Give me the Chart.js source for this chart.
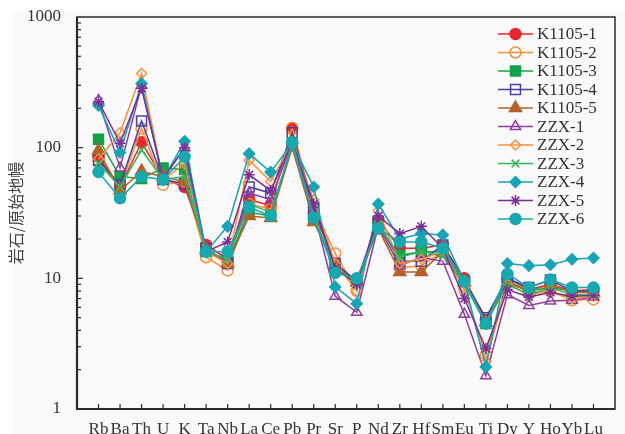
<!DOCTYPE html>
<html>
<head>
<meta charset="utf-8">
<script src="https://cdn.jsdelivr.net/npm/chart.js@4.4.1/dist/chart.umd.min.js"></script>
<style>
  html, body { margin: 0; padding: 0; background: #fff; }
  #wrap { width: 625px; height: 434px; }
</style>
</head>
<body>
<div id="wrap"><canvas id="graficoSpider" width="625" height="434"></canvas></div>
<script>
// elementos (eixo x)
const elementos = ['Rb','Ba','Th','U','K','Ta','Nb','La','Ce','Pb','Pr','Sr','P','Nd','Zr','Hf','Sm','Eu','Ti','Dy','Y','Ho','Yb','Lu'];

// valores normalizados ao manto primitivo
const k1105_1 = [85, 50, 110, 58, 50, 18, 14, 40, 36, 140, 32, 13, 9.5, 28, 17, 17, 18, 10, 4.8, 10, 8.2, 9, 8, 8.2];
const k1105_2 = [80, 50, 140, 52, 55, 14.5, 11.5, 37, 34, 142, 35, 15.5, 8, 27, 12, 12.5, 16, 8.2, 2.6, 9.5, 7.8, 8, 6.8, 6.9];
const k1105_3 = [116, 60, 58, 70, 68, 16, 13.5, 32, 30, 105, 28, 12, 9.5, 25, 15, 16, 16, 9.5, 4.5, 9.5, 8, 8.5, 8, 7.8];
const k1105_4 = [80, 52, 160, 57, 53, 17, 13, 50, 45, 130, 35, 13, 9.5, 27, 13.5, 13.5, 18, 9.5, 5, 10, 8.5, 9.7, 8, 8];
const k1105_5 = [95, 47, 66, 60, 55, 16.5, 13, 30, 29, 100, 27, 12.5, 9.3, 24, 11.2, 11.2, 16, 9.3, 4.6, 9.2, 8, 9, 7.8, 7.8];
const zzx_1 = [230, 70, 300, 58, 100, 16, 14, 45, 40, 110, 33, 7.3, 5.5, 25, 12.5, 14.5, 13.5, 5.3, 1.8, 7.5, 6.2, 6.7, 6.8, 7.2];
const zzx_2 = [82, 130, 370, 57, 75, 16, 13, 80, 55, 110, 40, 13, 8, 33, 13, 14, 16, 8.5, 2.3, 9, 7.5, 8, 7, 7.3];
const zzx_3 = [76, 50, 96, 57, 60, 16, 14, 37, 32, 105, 30, 12, 9, 26, 14.5, 16, 15, 9, 4.5, 9, 7.5, 8.5, 7.5, 7.5];
const zzx_4 = [210, 92, 310, 57, 112, 16, 25, 90, 65, 108, 50, 8.6, 6.4, 37, 20, 22, 21.5, 9.5, 2.1, 13, 12.5, 12.7, 14, 14.3];
const zzx_5 = [225, 108, 285, 58, 100, 16, 19, 62, 47, 110, 37, 12, 9, 30, 22, 25, 17, 7, 2.9, 8.2, 7.2, 7.8, 7.3, 7.4];
const zzx_6 = [65, 41, 60, 57, 85, 16, 16, 35, 30, 110, 29, 11, 10, 24, 19, 19, 17, 9.5, 4.5, 10.8, 8.5, 9.8, 8.5, 8.5];

const amostras = ['K1105-1','K1105-2','K1105-3','K1105-4','K1105-5','ZZX-1','ZZX-2','ZZX-3','ZZX-4','ZZX-5','ZZX-6'];
const valores = [k1105_1, k1105_2, k1105_3, k1105_4, k1105_5, zzx_1, zzx_2, zzx_3, zzx_4, zzx_5, zzx_6];

// estilo de cada amostra: cor, marcador, raio, preenchido
const estilos = [
  { cor: '#e8262d', ponto: 'circle',   raio: 5.5, cheio: true },
  { cor: '#f3913f', ponto: 'circle',   raio: 5.5, cheio: false },
  { cor: '#13a04a', ponto: 'rect',     raio: 7,   cheio: true },
  { cor: '#4b40a0', ponto: 'rect',     raio: 7,   cheio: false },
  { cor: '#b2622a', ponto: 'triangle', raio: 7,   cheio: true },
  { cor: '#8e3f9e', ponto: 'triangle', raio: 6,   cheio: false },
  { cor: '#f3913f', ponto: 'rectRot',  raio: 5,   cheio: false },
  { cor: '#3ab55a', ponto: 'crossRot', raio: 5.5, cheio: false },
  { cor: '#19a3b4', ponto: 'rectRot',  raio: 5.5, cheio: true },
  { cor: '#7a2f96', ponto: 'star',     raio: 5.5, cheio: false },
  { cor: '#17a9ad', ponto: 'circle',   raio: 5.5, cheio: true }
];

// uma posição vazia em cada ponta para dar o espaço das bordas
const labels = [''].concat(elementos, ['']);

const datasets = amostras.map(function (nome, i) {
  const e = estilos[i];
  return {
    label: nome,
    data: [null].concat(valores[i], [null]),
    borderColor: e.cor,
    backgroundColor: e.cheio ? e.cor : 'rgba(0,0,0,0)',
    borderWidth: 1.5,
    pointStyle: e.ponto,
    pointRadius: e.raio,
    pointBorderWidth: 1.5,
    pointBorderColor: e.cor,
    pointBackgroundColor: e.cheio ? e.cor : 'rgba(0,0,0,0)',
    tension: 0,
    order: amostras.length - i
  };
});

// fundo, moldura, marcas dos eixos e legenda
const molduraPlugin = {
  id: 'moldura',
  beforeDraw(chart) {
    const ctx = chart.ctx;
    ctx.save();
    ctx.fillStyle = '#ffffff';
    ctx.fillRect(0, 0, chart.width, chart.height);
    ctx.fillStyle = '#f9f9f9';
    ctx.fillRect(13, 11, chart.width - 13, chart.height - 11);
    ctx.restore();
  },
  afterDraw(chart) {
    const ctx = chart.ctx;
    const a = chart.chartArea;
    const sx = chart.scales.x;
    const sy = chart.scales.y;
    ctx.save();
    ctx.strokeStyle = '#2a2a2a';

    // marcas no eixo x
    ctx.lineWidth = 1.2;
    for (let i = 1; i <= elementos.length; i++) {
      const px = sx.getPixelForValue(i);
      ctx.beginPath();
      ctx.moveTo(px, a.bottom);
      ctx.lineTo(px, a.bottom - 5);
      ctx.stroke();
    }
    // marcas no eixo y (log)
    [1, 10, 100].forEach(function (dec) {
      for (let m = 1; m <= 9; m++) {
        const py = sy.getPixelForValue(dec * m);
        const len = m === 1 ? 6 : 4;
        ctx.beginPath();
        ctx.moveTo(a.left, py);
        ctx.lineTo(a.left + len, py);
        ctx.stroke();
      }
    });

    // moldura
    ctx.lineWidth = 1.5;
    ctx.strokeRect(a.left, a.top, a.right - a.left, a.bottom - a.top);
    ctx.lineWidth = 2.2;
    ctx.beginPath();
    ctx.moveTo(a.left, a.top);
    ctx.lineTo(a.left, a.bottom);
    ctx.lineTo(a.right, a.bottom);
    ctx.stroke();

    // legenda
    const x0 = 498, x1 = 533, xt = 537;
    ctx.font = '17px "Liberation Serif", serif';
    ctx.textBaseline = 'middle';
    ctx.textAlign = 'left';
    amostras.forEach(function (nome, i) {
      const e = estilos[i];
      const y = 34 + i * 18.5;
      ctx.strokeStyle = e.cor;
      ctx.lineWidth = 1.5;
      ctx.beginPath();
      ctx.moveTo(x0, y);
      ctx.lineTo(x1, y);
      ctx.stroke();
      ctx.fillStyle = e.cheio ? e.cor : 'rgba(0,0,0,0)';
      Chart.helpers.drawPoint(ctx, { pointStyle: e.ponto, radius: e.raio, rotation: 0, borderWidth: 1.5 }, (x0 + x1) / 2, y);
      ctx.fillStyle = '#333';
      ctx.fillText(nome, xt, y + 1);
    });
    ctx.restore();
  }
};

const ctx = document.getElementById('graficoSpider').getContext('2d');
const grafico = new Chart(ctx, {
  type: 'line',
  data: { labels: labels, datasets: datasets },
  options: {
    responsive: false,
    animation: false,
    devicePixelRatio: 1,
    spanGaps: false,
    layout: { padding: { top: 17, right: 8, left: 0, bottom: 0 } },
    plugins: {
      legend: { display: false },
      tooltip: { enabled: false }
    },
    scales: {
      x: {
        type: 'category',
        offset: false,
        grid: { display: false, drawTicks: false },
        border: { display: false },
        ticks: {
          autoSkip: false,
          maxRotation: 0,
          minRotation: 0,
          padding: 10,
          color: '#333',
          font: { family: '"Liberation Serif", serif', size: 17 }
        },
        afterFit(scale) { scale.height = 25; }
      },
      y: {
        type: 'logarithmic',
        min: 1,
        max: 1000,
        grid: { display: false, drawTicks: false },
        border: { display: false },
        afterBuildTicks(scale) {
          scale.ticks = [1, 10, 100, 1000].map(function (v) { return { value: v }; });
        },
        ticks: {
          padding: 16,
          color: '#333',
          font: { family: '"Liberation Serif", serif', size: 17 },
          callback: function (v) { return String(v); }
        },
        title: {
          display: true,
          text: '岩石/原始地幔',
          color: '#444',
          padding: { top: 6, bottom: 0 },
          font: { family: '"Noto Sans CJK SC", sans-serif', size: 16 }
        },
        afterFit(scale) {
          scale.width = 77;
          // sem folga extra em cima e embaixo: a área do gráfico fica fixa
          scale.paddingTop = 0;
          scale.paddingBottom = 0;
        }
      }
    }
  },
  plugins: [molduraPlugin]
});
</script>
</body>
</html>
